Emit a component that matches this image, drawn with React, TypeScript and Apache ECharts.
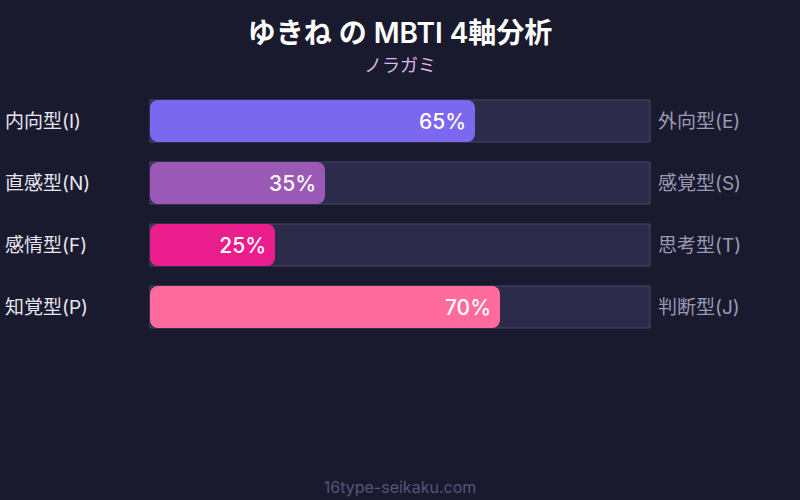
import React, { useEffect, useRef } from "react";
import * as echarts from "echarts";

const leftLabels = ["内向型(I)", "直感型(N)", "感情型(F)", "知覚型(P)"];
const rightLabels = ["外向型(E)", "感覚型(S)", "思考型(T)", "判断型(J)"];
const values = [65, 35, 25, 70];
const colors = ["#7b68ee", "#9b59b6", "#e91e8c", "#ff6b9d"];
const titleText = "ゆきね の MBTI 4軸分析";
const subtitleText = "ノラガミ";
const footerText = "16type-seikaku.com";

const FONT = "Inter, 'Noto Sans CJK JP', sans-serif";

export default function App() {
  const ref = useRef<HTMLDivElement>(null);
  useEffect(() => {
    if (!ref.current) return;
    const chart = echarts.init(ref.current, null, { renderer: "svg" });
    chart.setOption({
      animation: false,
      backgroundColor: "#1a1a2e",
      textStyle: { fontFamily: FONT },
      title: [
        {
          text: titleText,
          left: "center",
          top: 14,
          textStyle: { color: "#ffffff", fontSize: 28, fontWeight: 600, fontFamily: FONT },
        },
        {
          text: subtitleText,
          left: "center",
          top: 51,
          textStyle: { color: "#dcb8e6", fontSize: 18, fontWeight: "normal", fontFamily: FONT },
        },
        {
          text: footerText,
          left: "center",
          top: 474,
          textStyle: { color: "#55557a", fontSize: 16, fontWeight: "normal", fontFamily: FONT },
        },
      ],
      grid: { left: 150, right: 150, top: 90, height: 248, containLabel: false },
      xAxis: {
        type: "value",
        min: 0,
        max: 100,
        show: false,
      },
      yAxis: [
        {
          type: "category",
          data: leftLabels,
          inverse: true,
          position: "left",
          axisLine: { show: false },
          axisTick: { show: false },
          axisLabel: {
            color: "#e6e6f0",
            fontSize: 19,
            align: "left",
            margin: 145,
            padding: [0, 0, 6, 0],
            fontFamily: FONT,
          },
        },
        {
          type: "category",
          data: rightLabels,
          inverse: true,
          position: "right",
          axisLine: { show: false },
          axisTick: { show: false },
          axisLabel: {
            color: "#9a9ab4",
            fontSize: 19,
            align: "left",
            margin: 8,
            padding: [0, 0, 6, 0],
            fontFamily: FONT,
          },
        },
      ],
      series: [
        {
          type: "bar",
          yAxisIndex: 0,
          barWidth: 42,
          data: values.map((v, i) => ({
            value: v,
            itemStyle: { color: colors[i], borderRadius: 8 },
          })),
          showBackground: true,
          backgroundStyle: {
            color: "#2d2b4a",
            borderColor: "#48476c",
            borderWidth: 1,
          },
          label: {
            show: true,
            position: "insideRight",
            distance: 9,
            formatter: "{c}%",
            color: "#ffffff",
            fontSize: 21,
            fontWeight: 500,
            padding: [0, 0, 4, 0],
            fontFamily: FONT,
          },
        },
      ],
    });
    return () => chart.dispose();
  }, []);
  return <div ref={ref} style={{ width: 800, height: 500, position: "absolute", left: 0, top: 0 }} />;
}
